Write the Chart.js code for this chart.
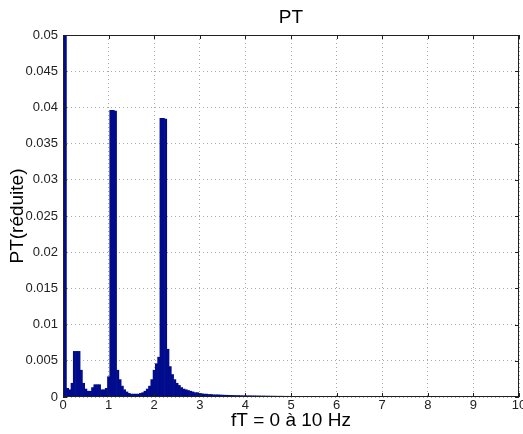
<!DOCTYPE html>
<html>
<head>
<meta charset="utf-8">
<script src="https://cdn.jsdelivr.net/npm/chart.js@4/dist/chart.umd.min.js"></script>
<style>
  html, body { margin: 0; padding: 0; background: #fff; }
  #wrap { width: 523px; height: 434px; }
</style>
</head>
<body>
<div id="wrap"><canvas id="pt-chart" width="523" height="434"></canvas></div>
<script>
// pas en frequence entre deux barres (Hz)
const FREQ_STEP = 0.05;

// PT(reduite), une valeur par barre (0 a 7 Hz)
const PT_VALUES = [
  0.05, 0.05, 0.0012, 0.001, 0.0019, 0.0063, 0.0063, 0.0063, 0.0037, 0.0019,
  0.0011, 0.0008, 0.0008, 0.0013, 0.0017, 0.0017, 0.0017, 0.001, 0.001, 0.0012,
  0.0028, 0.0396, 0.0396, 0.0395, 0.0037, 0.0024, 0.0015, 0.001, 0.0007, 0.0005,
  0.0004, 0.0004, 0.0004, 0.0004, 0.0005, 0.0006, 0.0008, 0.0011, 0.0015, 0.0024,
  0.0037, 0.0046, 0.0055, 0.0385, 0.0385, 0.0384, 0.0066, 0.0042, 0.0031, 0.0024,
  0.0019, 0.0016, 0.0013, 0.0011, 0.001, 0.0009, 0.0008, 0.0007, 0.0006, 0.0006,
  0.0005, 0.00045, 0.0004, 0.0004, 0.00035, 0.00035, 0.0003, 0.0003, 0.0003, 0.00028,
  0.00026, 0.00025, 0.00024, 0.00023, 0.00022, 0.00021, 0.0002, 0.0002, 0.00019, 0.00018,
  0.00018, 0.00017, 0.00017, 0.00016, 0.00016, 0.00015, 0.00015, 0.00014, 0.00014, 0.00013,
  0.00013, 0.00012, 0.00012, 0.00012, 0.00011, 0.00011, 0.00011, 0.0001, 0.0001, 0.0001,
  0.0001, 0.00009, 0.00009, 0.00009, 0.00008, 0.00008, 0.00008, 0.00008, 0.00007, 0.00007,
  0.00007, 0.00007, 0.00006, 0.00006, 0.00006, 0.00006, 0.00006, 0.00006, 0.00005, 0.00005,
  0.00005, 0.00005, 0.00005, 0.00005, 0.00005, 0.00005, 0.00004, 0.00004, 0.00004, 0.00004,
  0.00004, 0.00004, 0.00004, 0.00004, 0.00004, 0.00004, 0.00004, 0.00004, 0.00004, 0.00004,
  0.00004
];

const X_TICKS = [0, 1, 2, 3, 4, 5, 6, 7, 8, 9, 10];
const Y_TICKS = [0, 0.005, 0.01, 0.015, 0.02, 0.025, 0.03, 0.035, 0.04, 0.045, 0.05];

const TITLE = 'PT';
const BAR_COLOR = '#000c8c';
const FONT = "'Liberation Sans', Arial, sans-serif";

const points = PT_VALUES.map((v, i) => ({ x: i * FREQ_STEP, y: v }));

// titre centre sur la zone de trace, cadre + graduations vers l'interieur (style Matlab)
const framePlugin = {
  id: 'frame',
  afterDraw(chart) {
    const { ctx, chartArea: a, scales } = chart;
    ctx.save();
    ctx.fillStyle = '#000';
    ctx.font = '19px ' + FONT;
    ctx.textAlign = 'center';
    ctx.textBaseline = 'middle';
    ctx.fillText(TITLE, (a.left + a.right) / 2, 18);

    ctx.strokeStyle = '#202020';
    ctx.lineWidth = 1;
    ctx.strokeRect(a.left + 0.5, a.top + 0.5, a.right - a.left - 1, a.bottom - a.top - 1);
    ctx.beginPath();
    X_TICKS.forEach(t => {
      const px = Math.round(scales.x.getPixelForValue(t)) + 0.5;
      ctx.moveTo(px, a.bottom); ctx.lineTo(px, a.bottom - 4);
      ctx.moveTo(px, a.top); ctx.lineTo(px, a.top + 4);
    });
    Y_TICKS.forEach(t => {
      const py = Math.round(scales.y.getPixelForValue(t)) + 0.5;
      ctx.moveTo(a.left, py); ctx.lineTo(a.left + 4, py);
      ctx.moveTo(a.right, py); ctx.lineTo(a.right - 4, py);
    });
    ctx.stroke();
    ctx.restore();
  }
};

new Chart(document.getElementById('pt-chart'), {
  type: 'bar',
  data: {
    datasets: [{
      label: 'PT',
      data: points,
      backgroundColor: BAR_COLOR,
      borderColor: BAR_COLOR,
      borderWidth: 0,
      barPercentage: 1,
      categoryPercentage: 1
    }]
  },
  plugins: [framePlugin],
  options: {
    responsive: false,
    animation: false,
    layout: { padding: { left: 0, right: 0, top: 35, bottom: 0 } },
    plugins: {
      legend: { display: false },
      tooltip: { enabled: false },
      title: { display: false }
    },
    scales: {
      x: {
        type: 'linear',
        min: 0,
        max: 10,
        offset: false,
        afterBuildTicks: s => { s.ticks = X_TICKS.map(v => ({ value: v })); },
        ticks: {
          color: '#222',
          font: { family: FONT, size: 13 },
          padding: 1,
          maxRotation: 0,
          callback: v => String(v)
        },
        grid: { color: '#a8a8a8', offset: false, drawTicks: false },
        border: { display: false, dash: [1, 3] },
        title: {
          display: true,
          text: 'fT = 0 à 10 Hz',
          color: '#000',
          font: { family: FONT, size: 19 },
          padding: { top: 0, bottom: 2 }
        },
        afterFit: s => { s.height = 37; s.paddingRight = 4; }
      },
      y: {
        min: 0,
        max: 0.05,
        afterBuildTicks: s => { s.ticks = Y_TICKS.map(v => ({ value: v })); },
        ticks: {
          color: '#222',
          font: { family: FONT, size: 13 },
          padding: 5,
          callback: v => String(+v.toFixed(4))
        },
        grid: { color: '#a8a8a8', drawTicks: false },
        border: { display: false, dash: [1, 3] },
        title: {
          display: true,
          text: 'PT(réduite)',
          color: '#000',
          font: { family: FONT, size: 19 },
          padding: { top: 6, bottom: 0 }
        },
        afterFit: s => { s.width = 63; }
      }
    }
  }
});
</script>
</body>
</html>
